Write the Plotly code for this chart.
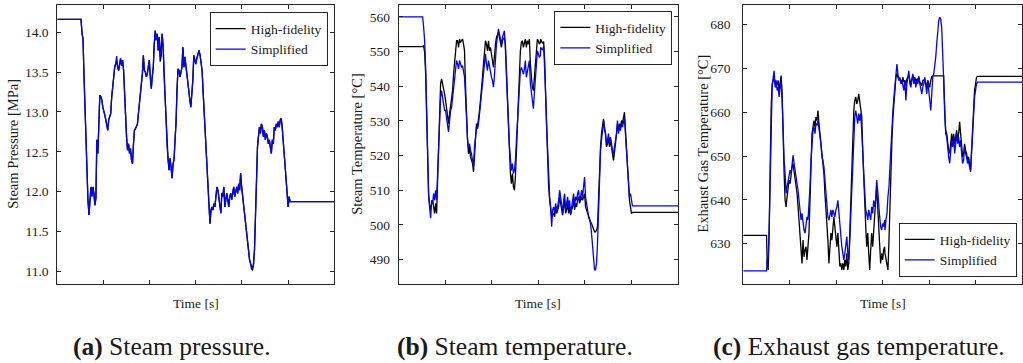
import plotly.graph_objects as go

# ---------------- shared sample times (arbitrary time units, axis unlabeled) ----------------
time_s = [
    0.0, 50.0,
    51.4, 53.6, 55.7, 57.9, 60.0, 62.1, 64.3, 66.4, 68.6, 70.7,
    72.9, 75.0, 77.1, 79.3, 81.4, 83.6, 85.7, 87.9, 90.0, 92.1,
    94.3, 96.4, 98.6, 100.7, 102.9, 105.0, 107.1, 109.3, 111.4, 113.6,
    115.7, 117.9, 120.0, 122.1, 124.3, 126.4, 128.6, 130.7, 132.9, 135.0,
    137.1, 139.3, 141.4, 143.6, 145.7, 147.9, 150.0, 152.1, 154.3, 156.4,
    158.6, 160.7, 162.9, 165.0, 167.1, 169.3, 171.4, 173.6, 175.7, 177.9,
    180.0, 182.1, 184.3, 186.4, 188.6, 190.7, 192.9, 195.0, 197.1, 199.3,
    201.4, 203.6, 205.7, 207.9, 210.0, 212.1, 214.3, 216.4, 218.6, 220.7,
    222.9, 225.0, 227.1, 229.3, 231.4, 233.6, 235.7, 237.9, 240.0, 242.1,
    244.3, 246.4, 248.6, 250.7, 252.9, 255.0, 257.1, 259.3, 261.4, 263.6,
    265.7, 267.9, 270.0, 272.1, 274.3, 276.4, 278.6, 280.7, 282.9, 285.0,
    287.1, 289.3, 291.4, 293.6, 295.7, 297.9, 300.0, 302.1, 304.3,
    305.0, 307.1, 309.3, 311.4, 313.6, 315.7, 317.9, 320.0, 322.1, 324.3,
    326.4, 328.6, 330.7, 332.9, 335.0, 337.1, 339.3, 341.4, 343.6, 345.7,
    347.9, 350.0, 352.1, 354.3, 356.4, 358.6, 360.7, 362.9, 365.0, 367.1,
    369.3, 371.4, 373.6, 375.7, 377.9, 380.0, 382.1, 384.3, 386.4, 388.6,
    390.7, 392.9, 395.0, 397.1, 399.3, 401.4, 403.6, 405.7, 407.9, 410.0,
    412.1, 414.3, 416.4, 418.6, 420.7, 422.9, 425.0, 427.1, 429.3, 431.4,
    433.6, 435.7, 437.9, 440.0, 442.1, 444.3, 446.4, 448.6, 450.7, 452.9,
    455.0, 457.1, 459.3, 461.4, 463.6, 465.7, 467.9, 470.0, 472.1, 474.3,
    476.4, 478.6, 480.7, 482.9, 485.0, 487.1, 489.3, 491.4, 493.6, 495.7,
    497.9, 500.0, 502.1, 504.3,
    600.0,
]

# ---------------- (a) steam pressure [MPa] ----------------
pressure_simplified = [
    14.16, 14.16,
    14.16, 13.98, 13.92, 13.44, 13.02, 12.52, 12.04, 11.90, 11.71,
    11.98, 12.06, 11.94, 12.06, 11.98, 11.83, 11.92, 12.65, 12.48, 12.98,
    13.21, 13.19, 13.15, 13.06, 13.02, 12.96, 12.90, 12.83, 12.77, 12.90,
    12.96, 12.98, 13.19, 13.33, 13.44, 13.56, 13.60, 13.70, 13.56, 13.52,
    13.60, 13.67, 13.58, 13.65, 13.52, 13.19, 12.85, 12.69, 12.52, 12.60,
    12.48, 12.54, 12.40, 12.35, 12.60, 12.77, 12.79, 12.83, 12.85, 12.98,
    13.10, 13.23, 13.33, 13.48, 13.71, 13.52, 13.50, 13.44, 13.48, 13.56,
    13.65, 13.44, 13.29, 13.44, 13.56, 13.85, 14.02, 13.90, 13.98, 13.77,
    13.94, 13.69, 13.85, 13.98, 13.81, 13.44, 13.15, 12.85, 12.56, 12.40,
    12.27, 12.42, 12.31, 12.17, 12.35, 12.40, 12.65, 12.85, 13.27, 13.54,
    13.52, 13.44, 13.50, 13.56, 13.81, 13.56, 13.69, 13.56, 13.44, 13.31,
    13.27, 13.15, 13.06, 13.19, 13.40, 13.71, 13.65, 13.60, 13.67, 13.71,
    13.74, 13.77, 13.71, 13.63, 13.52, 13.27, 13.02, 12.73, 12.52, 12.23,
    12.06, 11.85, 11.60, 11.77, 11.81, 11.77, 11.85, 11.81, 11.94, 12.06,
    12.02, 11.90, 11.85, 11.73, 11.98, 11.94, 12.06, 11.81, 11.90, 11.98,
    11.90, 11.81, 11.94, 11.98, 11.90, 12.02, 12.06, 11.94, 12.02, 12.06,
    11.98, 12.10, 12.02, 12.23, 12.06, 11.94, 11.81, 11.77, 11.65, 11.48,
    11.35, 11.23, 11.15, 11.10, 11.06, 11.04, 11.10, 11.27, 11.69, 12.23,
    12.56, 12.69, 12.81, 12.73, 12.85, 12.81, 12.69, 12.77, 12.65, 12.73,
    12.69, 12.60, 12.65, 12.56, 12.48, 12.65, 12.60, 12.81, 12.77, 12.85,
    12.81, 12.88, 12.81, 12.90, 12.92, 12.81, 12.56, 12.48, 12.31, 12.15,
    11.90, 11.81, 11.94, 11.875,
    11.875,
]
pressure_highfid = [
    14.16, 14.16,
    14.16, 13.98, 13.92, 13.44, 13.02, 12.52, 12.04, 11.90, 11.71,
    11.98, 12.06, 11.94, 12.06, 11.98, 11.83, 11.92, 12.65, 12.48, 12.98,
    13.21, 13.19, 13.15, 13.06, 13.02, 12.96, 12.90, 12.83, 12.77, 12.90,
    12.96, 12.98, 13.19, 13.33, 13.44, 13.56, 13.60, 13.64, 13.56, 13.52,
    13.60, 13.67, 13.58, 13.65, 13.52, 13.19, 12.85, 12.69, 12.52, 12.60,
    12.48, 12.54, 12.40, 12.35, 12.60, 12.77, 12.79, 12.83, 12.85, 12.98,
    13.10, 13.23, 13.33, 13.48, 13.71, 13.52, 13.50, 13.44, 13.48, 13.56,
    13.65, 13.44, 13.29, 13.44, 13.56, 13.85, 14.02, 13.90, 13.98, 13.77,
    13.94, 13.63, 13.70, 13.98, 13.81, 13.44, 13.15, 12.85, 12.56, 12.40,
    12.27, 12.42, 12.31, 12.17, 12.35, 12.40, 12.65, 12.85, 13.27, 13.54,
    13.52, 13.44, 13.50, 13.56, 13.81, 13.56, 13.69, 13.56, 13.44, 13.31,
    13.27, 13.15, 13.06, 13.19, 13.40, 13.71, 13.65, 13.60, 13.67, 13.71,
    13.74, 13.77, 13.71, 13.63, 13.52, 13.27, 13.02, 12.73, 12.52, 12.23,
    12.06, 11.85, 11.60, 11.77, 11.81, 11.77, 11.85, 11.81, 11.94, 12.06,
    12.02, 11.90, 11.85, 11.73, 11.98, 11.94, 12.06, 11.81, 11.90, 11.98,
    11.90, 11.81, 11.94, 11.98, 11.90, 12.02, 12.06, 11.94, 12.02, 12.06,
    11.98, 12.10, 12.02, 12.23, 12.06, 11.94, 11.81, 11.77, 11.65, 11.48,
    11.35, 11.23, 11.15, 11.10, 11.03, 11.02, 11.08, 11.27, 11.69, 12.23,
    12.56, 12.69, 12.81, 12.73, 12.85, 12.81, 12.69, 12.77, 12.65, 12.73,
    12.69, 12.60, 12.65, 12.56, 12.48, 12.65, 12.60, 12.81, 12.77, 12.85,
    12.81, 12.88, 12.81, 12.90, 12.92, 12.81, 12.56, 12.48, 12.31, 12.15,
    11.90, 11.81, 11.94, 11.875,
    11.875,
]

# ---------------- (b) steam temperature [°C] ----------------
steam_temp_simplified = [
    560.0, 560.0,
    560.0, 557.0, 553.1, 545.4, 530.1, 517.7, 509.0, 505.2,
    501.9, 507.1, 506.2, 509.0, 507.1, 510.0, 507.1, 514.8, 523.4, 533.0,
    536.8, 538.7, 536.8, 534.9, 533.0, 533.0, 530.1, 528.7, 526.8, 530.1,
    533.0, 533.9, 536.8, 540.7, 542.6, 545.4, 547.4, 546.4, 545.0, 547.4,
    546.4, 545.4, 545.9, 543.5, 542.6, 536.8, 528.2, 524.4, 522.5, 523.4,
    521.5, 520.5, 518.6, 516.7, 522.5, 526.3, 528.2, 527.7, 529.2, 532.0,
    534.9, 537.8, 540.7, 543.5, 547.8, 549.3, 546.4, 544.5, 547.4, 545.4,
    543.5, 542.6, 541.6, 539.7, 543.0, 548.3, 552.1, 554.1, 556.5, 555.0,
    553.1, 552.1, 554.1, 555.0, 556.0, 550.2, 544.5, 536.8, 529.2, 522.5,
    518.6, 515.7, 517.7, 514.8, 515.7, 518.6, 524.4, 529.2, 535.9, 541.6,
    544.5, 545.4, 544.5, 543.5, 545.0, 547.4, 542.6, 544.5, 545.4, 547.4,
    540.7, 538.7, 535.9, 533.5, 537.8, 542.6, 546.4, 550.2, 549.3, 548.3,
    548.8,
    551.2, 550.7, 550.4, 551.7,
    546.4, 537.8, 528.2, 520.5, 512.9, 508.1, 505.2, 499.5, 504.3, 505.2,
    503.3, 506.2, 504.3, 505.2, 507.1, 510.0, 508.1, 505.2, 503.3, 507.1,
    509.0, 504.3, 506.2, 508.1, 505.2, 507.1, 503.3, 506.2, 507.1, 509.0,
    505.2, 508.1, 507.1, 509.0, 510.0, 507.1, 508.1, 510.0, 508.1, 511.0,
    513.8, 508.1, 505.2, 504.3, 502.3, 501.4, 500.4, 497.5, 493.7, 488.9,
    487.0, 487.0, 488.9, 494.7, 505.2, 516.7, 521.5, 524.4, 528.2, 530.1,
    527.2, 526.3, 523.4, 524.4, 526.3, 523.4, 525.3, 522.5, 521.5, 520.5,
    523.4, 524.4, 526.3, 530.1, 526.3, 528.2, 527.2, 529.2, 528.2, 530.1,
    531.1, 526.3, 521.5, 516.7, 512.9, 508.1, 509.0, 506.2, 505.5, 505.5,
    505.5,
]
steam_temp_highfid = [
    551.4, 551.4,
    551.4, 551.7, 549.8, 543.5, 528.2, 516.7, 508.1, 505.7,
    504.3, 506.2, 507.1, 505.2, 503.3, 506.2, 503.3, 512.9, 522.5, 535.9,
    540.7, 542.1, 540.7, 539.7, 537.8, 535.9, 533.0, 532.0, 529.2, 532.0,
    533.9, 535.9, 538.7, 543.5, 547.4, 550.2, 553.1, 553.1, 551.2, 553.6,
    552.6, 553.1, 553.6, 552.1, 550.2, 539.7, 530.1, 524.4, 520.5, 522.5,
    519.6, 518.6, 517.7, 515.3, 520.5, 527.2, 529.2, 528.2, 530.1, 533.0,
    535.9, 538.7, 542.6, 546.4, 551.2, 553.1, 552.1, 550.2, 553.1, 550.2,
    551.2, 548.3, 547.4, 545.4, 549.3, 552.1, 554.1, 555.0, 555.5, 554.1,
    552.6, 551.2, 553.1, 553.6, 554.1, 552.1, 543.5, 535.9, 526.3, 518.6,
    514.8, 511.9, 514.8, 511.0, 510.0, 513.8, 522.5, 529.2, 538.7, 545.4,
    550.2, 552.6, 553.1, 551.2, 553.1, 553.6, 551.2, 553.1, 552.1, 553.6,
    546.4, 542.6, 539.7, 538.7, 542.6, 548.3, 552.1, 553.6, 553.1, 552.1,
    552.6,
    553.6, 552.9, 552.3, 552.9,
    547.4, 536.8, 526.3, 518.6, 511.0, 507.1, 504.3, 502.3, 502.8, 503.3,
    502.3, 505.2, 503.3, 504.3, 505.2, 508.1, 506.2, 503.3, 502.8, 505.2,
    507.1, 503.3, 504.3, 506.2, 503.3, 505.2, 502.8, 504.3, 505.2, 507.1,
    504.3, 506.2, 505.2, 507.1, 508.1, 506.2, 507.1, 508.1, 507.1, 508.1,
    509.0, 505.2, 504.3, 503.3, 502.3, 501.4, 500.9, 500.4, 499.5, 498.5,
    498.0, 498.0, 498.5, 499.5, 507.1, 518.6, 522.5, 526.3, 529.2, 530.6,
    528.2, 526.3, 522.5, 523.4, 525.3, 522.5, 524.4, 521.5, 520.5, 518.6,
    522.5, 523.4, 526.3, 529.2, 527.2, 529.2, 528.2, 530.1, 529.2, 531.1,
    532.5, 527.2, 521.5, 515.7, 511.0, 507.1, 505.2, 503.3, 503.6, 503.6,
    503.6,
]

# ---------------- (c) exhaust gas temperature [°C] ----------------
exhaust_temp_simplified = [
    623.8, 623.8,
    626.3, 627.0, 633.1, 647.5, 658.9, 665.7, 668.0, 669.5, 665.7, 667.3,
    665.0, 665.7, 663.5, 666.5, 667.6, 662.7, 653.6, 649.0, 646.0, 641.5,
    643.0, 644.5, 645.3, 646.8, 646.0, 649.0, 650.2, 648.3, 646.8, 645.3,
    644.5, 642.2, 639.9, 637.7, 635.4, 636.9, 634.6, 633.1, 632.4, 634.6,
    636.1, 635.4, 638.4, 643.0, 649.0, 653.6, 655.9, 656.6, 655.1, 657.4,
    657.0, 658.1, 656.6, 654.4, 652.8, 649.8, 649.0, 647.5, 644.5, 641.5,
    638.4, 636.1, 635.4, 636.9, 637.7, 636.1, 637.7, 636.9, 636.1, 637.7,
    638.4, 639.9, 636.9, 633.1, 630.8, 629.3, 627.8, 626.3, 627.8, 630.1,
    631.6, 627.8, 626.3, 630.8, 636.1, 643.7, 650.6, 655.9, 658.9, 660.4,
    658.9, 657.4, 659.7, 658.1, 659.7, 656.6, 651.3, 646.0, 639.9, 637.7,
    636.9, 635.4, 637.7, 636.1, 635.4, 638.4, 636.9, 639.9, 638.4, 639.9,
    644.5, 642.2, 638.4, 636.1, 633.9, 633.1, 634.6, 633.9, 635.4,
    633.1, 635.4, 636.9, 640.7, 643.0, 647.5, 652.8, 656.6, 660.4, 663.5,
    666.5, 668.0, 671.0, 668.8, 667.3, 668.0, 666.5, 667.3, 665.7, 665.0,
    667.3, 662.7, 666.5, 668.0, 669.5, 666.5, 665.7, 667.3, 668.8, 666.5,
    668.0, 665.7, 667.3, 666.5, 668.0, 666.5, 665.0, 664.2, 665.7, 666.5,
    668.0, 665.7, 664.2, 667.3, 665.0, 662.7, 660.4, 664.2, 668.0, 668.8,
    670.3, 672.6, 675.6, 678.6, 680.9, 681.7, 681.3, 679.4, 673.3, 666.5,
    658.9, 655.1, 654.4, 651.3, 649.8, 648.3, 652.1, 653.6, 652.1, 654.4,
    650.6, 653.6, 655.1, 652.8, 654.4, 652.1, 653.6, 650.6, 648.3, 649.0,
    652.1, 650.6, 649.8, 648.3, 649.0, 647.5, 646.8, 650.6, 655.1, 660.4,
    663.5, 665.0, 666.5, 666.9,
    666.9,
]
exhaust_temp_highfid = [
    631.9, 631.9,
    625.5, 624.0, 633.1, 649.0, 661.2, 666.5, 667.3, 668.0, 666.5, 665.7,
    666.5, 667.3, 665.0, 667.3, 668.4, 664.2, 652.1, 646.0, 639.9, 638.4,
    640.7, 642.2, 644.5, 643.7, 646.0, 647.5, 648.3, 646.8, 645.3, 643.0,
    641.5, 638.4, 635.4, 632.4, 630.1, 625.5, 630.8, 627.0, 628.6, 629.3,
    626.3, 629.3, 632.4, 639.9, 649.0, 655.1, 656.6, 658.1, 656.6, 658.9,
    658.1, 660.4, 657.4, 655.1, 652.1, 650.6, 648.3, 646.0, 641.5, 638.4,
    633.9, 630.8, 625.5, 630.1, 632.4, 630.8, 633.9, 636.1, 633.9, 630.8,
    629.3, 632.4, 627.8, 624.8, 625.5, 624.0, 625.5, 624.0, 626.3, 624.8,
    627.8, 624.0, 625.5, 632.4, 639.9, 647.5, 655.1, 660.4, 662.7, 663.5,
    661.9, 662.7, 664.2, 661.9, 660.4, 658.9, 651.3, 643.7, 638.4, 633.9,
    629.3, 632.4, 627.8, 624.0, 628.6, 632.4, 629.3, 633.9, 638.4, 639.9,
    643.0, 638.4, 633.9, 627.8, 625.5, 627.8, 626.3, 628.6, 629.3,
    627.8, 626.3, 625.5, 624.0, 630.8, 639.9, 647.5, 653.6, 658.9, 662.7,
    665.7, 668.0, 668.8, 668.0, 667.3, 667.6, 667.3, 666.5, 668.0, 666.9,
    667.3, 666.1, 667.6, 668.0, 668.4, 667.3, 666.5, 667.6, 668.4, 666.9,
    668.0, 666.5, 667.6, 667.3, 668.2, 666.9, 666.5, 666.1, 667.3, 667.3,
    667.6, 666.9, 665.7, 667.3, 666.5, 665.7, 667.3, 668.2, 668.3, 668.3,
    668.3, 668.3, 668.3, 668.3, 668.3, 668.3, 668.3, 668.3, 668.3, 668.3,
    659.7, 655.9, 655.1, 652.8, 651.3, 650.6, 653.6, 655.1, 652.8, 655.1,
    652.8, 654.4, 655.9, 653.6, 655.1, 657.8, 654.4, 652.1, 649.8, 650.6,
    652.8, 651.3, 650.6, 649.0, 649.8, 648.3, 646.4, 651.3, 656.6, 661.9,
    665.0, 666.5, 668.0, 668.2,
    668.2,
]

# ---------------- labels ----------------
series_names = ["High-fidelity", "Simplified"]
y_titles = ["Steam Pressure [MPa]", "Steam Temperature [°C]", "Exhaust Gas Temperature [°C]"]
x_title = "Time [s]"
captions = [("(a)", "Steam pressure."), ("(b)", "Steam temperature."), ("(c)", "Exhaust gas temperature.")]
y_ticks = [[11.0, 11.5, 12.0, 12.5, 13.0, 13.5, 14.0],
           [490, 500, 510, 520, 530, 540, 550, 560],
           [630, 640, 650, 660, 670, 680]]
x_ticks = [100, 200, 300, 400, 500]

for arr in (pressure_simplified, pressure_highfid, steam_temp_simplified, steam_temp_highfid,
            exhaust_temp_simplified, exhaust_temp_highfid):
    if len(arr) != len(time_s):
        raise ValueError(f"length mismatch {len(arr)} vs {len(time_s)}")

# ---------------- layout geometry ----------------
W, H = 1023, 363
FONT = "Liberation Serif, 'DejaVu Serif', Times New Roman, serif"
TXT = "#1a1a1a"
AX = "#262626"

panels = [
    dict(x0=57.3, x1=334.3, yr=[10.85, 14.34], fmt=".1f", hf=pressure_highfid, sp=pressure_simplified,
         ytx=12.7, xtx=195.7, cap=172, leg=dict(x=327.7, y=12.3, anchor="top"), std=5),
    dict(x0=398.7, x1=678.0, yr=[483.1, 563.4], fmt="d", hf=steam_temp_highfid, sp=steam_temp_simplified,
         ytx=356.7, xtx=538.3, cap=515, leg=dict(x=672.3, y=11.0, anchor="top"), std=5),
    dict(x0=743.3, x1=1022.0, yr=[620.9, 684.5], fmt="d", hf=exhaust_temp_highfid, sp=exhaust_temp_simplified,
         ytx=702.7, xtx=883.0, cap=859, leg=dict(x=1016.7, y=277.0, anchor="bottom"), std=9),
]
y_top, y_bot = 5.0, 283.5

fig = go.Figure()
annotations = []
layout_axes = {}
for i, p in enumerate(panels):
    n = i + 1
    xa = "x" if n == 1 else f"x{n}"
    ya = "y" if n == 1 else f"y{n}"
    leg = "legend" if n == 1 else f"legend{n}"
    fig.add_trace(go.Scatter(x=time_s, y=p["hf"], mode="lines", name=series_names[0],
                             line=dict(color="#000000", width=1.3), xaxis=xa, yaxis=ya, legend=leg))
    fig.add_trace(go.Scatter(x=time_s, y=p["sp"], mode="lines", name=series_names[1],
                             line=dict(color="#0000ff", width=1.3), xaxis=xa, yaxis=ya, legend=leg))
    common = dict(showline=True, linecolor=AX, linewidth=1, mirror="ticks", ticks="inside",
                  ticklen=4, tickwidth=1, tickcolor=AX, showgrid=False, zeroline=False)
    xkey = "xaxis" if n == 1 else f"xaxis{n}"
    ykey = "yaxis" if n == 1 else f"yaxis{n}"
    layout_axes[xkey] = dict(domain=[p["x0"] / W, p["x1"] / W], range=[0, 600], tickvals=x_ticks,
                             showticklabels=False, anchor=ya, **common)
    layout_axes[ykey] = dict(domain=[1 - y_bot / H, 1 - y_top / H], range=p["yr"], tickvals=y_ticks[i],
                             tickformat=p["fmt"], anchor=xa, ticklabelstandoff=p["std"],
                             tickfont=dict(family=FONT, size=13.5, color=TXT), **common)
    # legend
    lg = p["leg"]
    layout_axes[leg] = dict(x=lg["x"] / W, y=1 - lg["y"] / H, xanchor="right", yanchor=lg["anchor"],
                            bgcolor="white", bordercolor=AX, borderwidth=1,
                            font=dict(family=FONT, size=13.5, color=TXT), tracegroupgap=0)
    # axis titles
    annotations.append(dict(text=y_titles[i], x=p["ytx"] / W, y=1 - 144 / H, xref="paper", yref="paper",
                            textangle=-90, showarrow=False, xanchor="center", yanchor="middle",
                            font=dict(family=FONT, size=14.5, color=TXT)))
    annotations.append(dict(text=x_title, x=p["xtx"] / W, y=1 - 303 / H, xref="paper", yref="paper",
                            showarrow=False, xanchor="center", yanchor="middle",
                            font=dict(family=FONT, size=13.5, color=TXT)))
    lab, cap = captions[i]
    annotations.append(dict(text=f"<b>{lab}</b> {cap}", x=p["cap"] / W, y=1 - 346 / H, xref="paper",
                            yref="paper", showarrow=False, xanchor="center", yanchor="middle",
                            font=dict(family=FONT, size=25.5, color=TXT)))

fig.update_layout(
    width=W, height=H, autosize=False,
    margin=dict(l=0, r=0, t=0, b=0),
    paper_bgcolor="white", plot_bgcolor="white",
    showlegend=True,
    font=dict(family=FONT, color=TXT),
    annotations=annotations,
    **layout_axes,
)

fig.write_html("out.html")
